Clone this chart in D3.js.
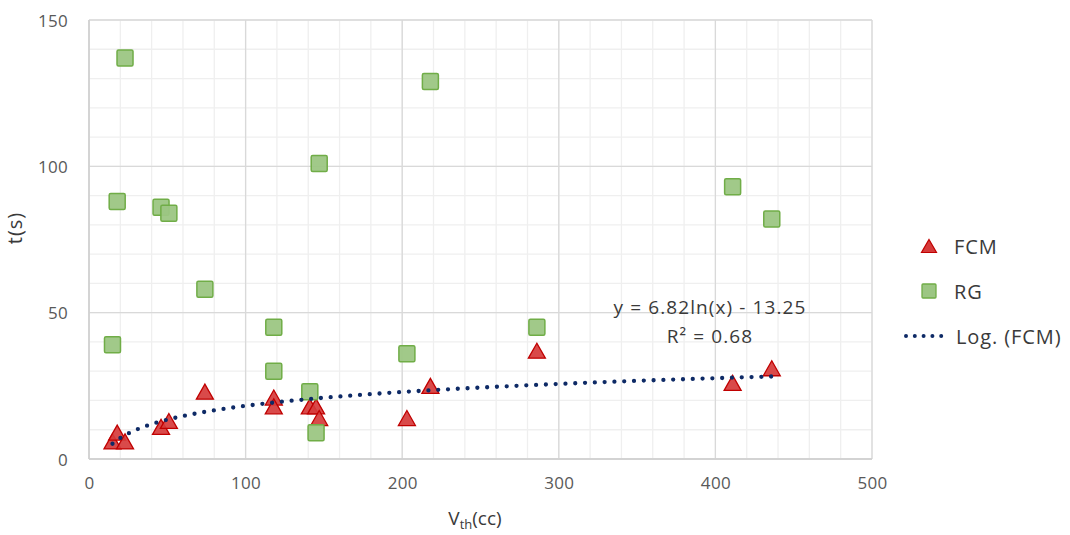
<!DOCTYPE html>
<html>
<head>
<meta charset="utf-8">
<script src="https://cdn.jsdelivr.net/npm/d3@7"></script>
<style>
  html, body { margin: 0; padding: 0; background: #fff; }
  svg { display: block; font-family: "Open Sans", "DejaVu Sans", sans-serif; }
</style>
</head>
<body>
<svg id="chart" width="1070" height="535"></svg>
<script>
// Threshold volume (cc) for each sample
const volumes = [15, 18, 23, 46, 51, 74, 118, 118, 141, 145, 147, 203, 218, 286, 411, 436];
// Times (s) for each method
const fcmTimes = [6, 9, 6, 11, 13, 23, 21, 18, 18, 18, 14, 14, 25, 37, 26, 31];
const rgTimes  = [39, 88, 137, 86, 84, 58, 45, 30, 23, 9, 101, 36, 129, 45, 93, 82];
// Logarithmic fit of FCM: y = a*ln(x) + b
const fitCoef = [6.82, -13.25];
const fitR2 = 0.68;

const xTicks = [0, 100, 200, 300, 400, 500];
const yTicks = [0, 50, 100, 150];
const seriesNames = ["FCM", "RG", "Log. (FCM)"];

const svg = d3.select("#chart");
const x = d3.scaleLinear().domain([0, 500]).range([89, 872]);
const y = d3.scaleLinear().domain([0, 150]).range([459, 20]);

const COLORS = {
  minor: "#efefef", major: "#d9d9d9", tick: "#595959", text: "#3a3a3a",
  triFill: "#d63b3b", triStroke: "#c00000",
  sqFill: "#9cc683", sqStroke: "#70ad47", trend: "#0e2a66"
};

// Minor gridlines
const g = svg.append("g");
g.selectAll("line.vminor").data(d3.range(0, 501, 20)).join("line")
  .attr("x1", d => x(d)).attr("x2", d => x(d)).attr("y1", y(0)).attr("y2", y(150))
  .attr("stroke", COLORS.minor).attr("stroke-width", 1.3);
g.selectAll("line.hminor").data(d3.range(0, 151, 10)).join("line")
  .attr("x1", x(0)).attr("x2", x(500)).attr("y1", d => y(d)).attr("y2", d => y(d))
  .attr("stroke", COLORS.minor).attr("stroke-width", 1.3);
// Major gridlines
g.selectAll("line.vmajor").data(xTicks).join("line")
  .attr("x1", d => x(d)).attr("x2", d => x(d)).attr("y1", y(0)).attr("y2", y(150))
  .attr("stroke", COLORS.major).attr("stroke-width", 1.3);
g.selectAll("line.hmajor").data(yTicks).join("line")
  .attr("x1", x(0)).attr("x2", x(500)).attr("y1", d => y(d)).attr("y2", d => y(d))
  .attr("stroke", COLORS.major).attr("stroke-width", 1.3);
// Axis lines
g.append("line").attr("x1", x(0)).attr("x2", x(0)).attr("y1", y(0)).attr("y2", y(150))
  .attr("stroke", "#cfcfcf").attr("stroke-width", 1.5);
g.append("line").attr("x1", x(0)).attr("x2", x(500)).attr("y1", y(0)).attr("y2", y(0))
  .attr("stroke", "#cfcfcf").attr("stroke-width", 1.5);

// Axes (labels only)
const xAxis = d3.axisBottom(x).tickValues(xTicks).tickSize(0).tickPadding(0);
const yAxis = d3.axisLeft(y).tickValues(yTicks).tickSize(0).tickPadding(0);
const gx = svg.append("g").attr("transform", `translate(0, ${y(0) + 21})`).call(xAxis);
const gy = svg.append("g").attr("transform", `translate(${x(0) - 21}, 0)`).call(yAxis);
[gx, gy].forEach(a => {
  a.select(".domain").remove();
  a.selectAll("text").attr("fill", COLORS.tick).attr("font-size", 17)
    .attr("font-family", "'Open Sans', sans-serif").attr("letter-spacing", 0.3);
});
gy.selectAll("text").attr("dy", "0.36em");
gx.selectAll("text").attr("dy", "0.55em");

// Axis titles
svg.append("text").attr("transform", `translate(22, 228) rotate(-90)`)
  .attr("text-anchor", "middle").attr("fill", COLORS.text).attr("font-size", 20)
  .attr("letter-spacing", 1).text("t(s)");
const xt = svg.append("text").attr("x", 475).attr("y", 525).attr("text-anchor", "middle")
  .attr("fill", COLORS.text).attr("font-size", 19);
xt.append("tspan").text("V");
xt.append("tspan").attr("font-size", 13).attr("dy", 4).text("th");
xt.append("tspan").attr("dy", -4).text("(cc)");

// Trendline (dotted)
const [xmin, xmax] = d3.extent(volumes);
const trendPts = d3.range(xmin, xmax + 0.001, (xmax - xmin) / 200)
  .map(v => [v, fitCoef[0] * Math.log(v) + fitCoef[1]]);
const line = d3.line().x(d => x(d[0])).y(d => y(d[1])).curve(d3.curveLinear);

// Markers
const triPath = (cx, cy, w = 17, h = 15) =>
  `M${cx},${cy - h / 2}L${cx + w / 2},${cy + h / 2}L${cx - w / 2},${cy + h / 2}Z`;
const SQ = 16;

const pts = volumes.map((v, i) => ({ v, fcm: fcmTimes[i], rg: rgTimes[i] }));

svg.append("g").selectAll("path").data(pts).join("path")
  .attr("d", d => triPath(x(d.v), y(d.fcm)))
  .attr("fill", COLORS.triFill).attr("fill-opacity", 0.92)
  .attr("stroke", COLORS.triStroke).attr("stroke-width", 1.3).attr("stroke-linejoin", "miter");

svg.append("g").selectAll("rect").data(pts).join("rect")
  .attr("x", d => x(d.v) - SQ / 2).attr("y", d => y(d.rg) - SQ / 2)
  .attr("width", SQ).attr("height", SQ).attr("rx", 1.5)
  .attr("fill", COLORS.sqFill).attr("fill-opacity", 0.95)
  .attr("stroke", COLORS.sqStroke).attr("stroke-width", 1.5);

svg.append("path").datum(trendPts).attr("d", line)
  .attr("fill", "none").attr("stroke", COLORS.trend).attr("stroke-width", 4.3)
  .attr("stroke-linecap", "round").attr("stroke-dasharray", "0 9.8");

// Fit equation label
svg.append("text").attr("x", 710).attr("y", 314).attr("text-anchor", "middle")
  .attr("fill", COLORS.text).attr("font-size", 19).attr("letter-spacing", 1.1)
  .text(`y = ${fitCoef[0].toFixed(2)}ln(x) - ${Math.abs(fitCoef[1]).toFixed(2)}`);
svg.append("text").attr("x", 710).attr("y", 343).attr("text-anchor", "middle")
  .attr("fill", COLORS.text).attr("font-size", 19).attr("letter-spacing", 1.1)
  .text(`R² = ${fitR2.toFixed(2)}`);

// Legend
const lg = svg.append("g");
lg.append("path").attr("d", triPath(929, 246, 15, 13))
  .attr("fill", COLORS.triFill).attr("stroke", COLORS.triStroke).attr("stroke-width", 1.2);
lg.append("rect").attr("x", 922).attr("y", 284).attr("width", 14).attr("height", 14).attr("rx", 1)
  .attr("fill", COLORS.sqFill).attr("stroke", COLORS.sqStroke).attr("stroke-width", 1.3);
lg.append("line").attr("x1", 906).attr("x2", 950).attr("y1", 336).attr("y2", 336)
  .attr("stroke", COLORS.trend).attr("stroke-width", 4).attr("stroke-linecap", "round")
  .attr("stroke-dasharray", "0 8.8");
const legendY = [254, 299, 344];
lg.selectAll("text").data(seriesNames).join("text")
  .attr("x", (d, i) => i === 2 ? 956 : 954).attr("y", (d, i) => legendY[i])
  .attr("fill", COLORS.text).attr("font-size", 20).attr("letter-spacing", 0.9).text(d => d);
</script>
</body>
</html>
